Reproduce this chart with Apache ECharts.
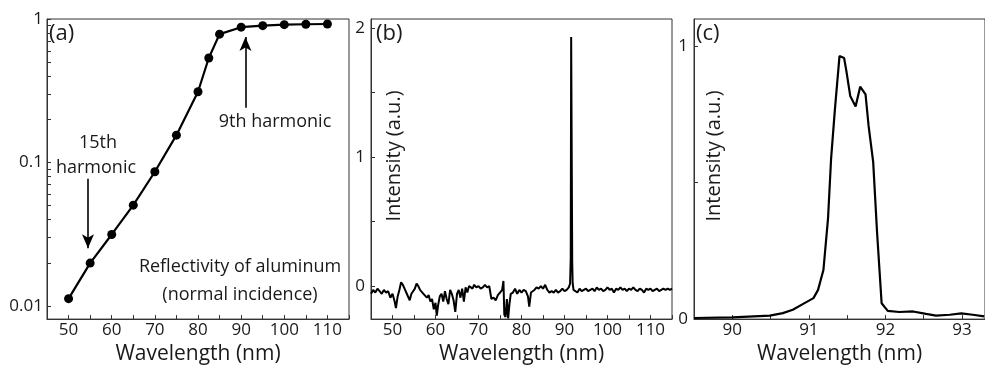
<!DOCTYPE html>
<html><head><meta charset="utf-8">
<script src="https://cdn.jsdelivr.net/npm/echarts@6/dist/echarts.min.js"></script>
<style>html,body{margin:0;padding:0;background:#fff}#c{width:985px;height:370px}</style>
</head><body><div id="c"></div>
<script>
// ---------- data ----------
const reflWavelength = [50,55,60,65,70,75,80,82.5,85,90,95,100,105,110];
const reflectivity   = [0.01125,0.0199,0.0315,0.0504,0.0862,0.155,0.311,0.535,0.784,0.877,0.899,0.913,0.919,0.923];

const specBWavelength = [45.0,45.5,46.0,46.5,47.0,47.5,48.0,48.5,49.0,49.5,50.0,50.5,50.8,51.2,51.6,52.0,52.4,52.8,53.2,53.6,54.0,54.4,54.8,55.2,55.6,56.0,56.4,56.8,57.2,57.6,58.0,58.4,58.8,59.2,59.6,60.0,60.3,60.6,61.0,61.4,61.8,62.2,62.6,63.0,63.4,63.8,64.2,64.6,65.0,65.4,65.8,66.2,66.6,67.0,67.4,67.8,68.2,68.6,69.0,69.5,70.0,70.5,71.0,71.5,72.0,72.5,73.0,73.5,74.0,74.5,75.0,75.5,75.8,76.0,76.3,76.6,76.9,77.2,77.5,78.0,78.5,79.0,79.5,80.0,80.5,81.0,81.5,81.8,82.2,82.6,83.0,83.5,84.0,84.5,85.0,85.5,86.0,86.5,87.0,87.5,88.0,88.5,89.0,89.5,90.0,90.5,91.0,91.3,91.45,91.55,91.7,91.8,91.9,92.1,92.5,93.0,93.5,94.0,94.5,95.0,95.5,96.0,96.5,97.0,97.5,98.0,98.5,99.0,99.5,100.0,100.5,101.0,101.5,102.0,102.5,103.0,103.5,104.0,104.5,105.0,105.5,106.0,106.5,107.0,107.5,108.0,108.5,109.0,109.5,110.0,110.5,111.0,111.5,112.0,112.5,113.0,113.5,114.0,114.5,115.0];
const specBIntensity = [-0.06,-0.03,-0.05,-0.02,-0.04,-0.06,-0.03,-0.05,-0.04,-0.09,-0.06,-0.12,-0.17,-0.08,-0.03,0.03,0.01,-0.02,-0.05,-0.04,-0.11,-0.06,-0.04,-0.02,0.02,0.00,-0.03,-0.02,-0.06,-0.05,-0.09,-0.07,-0.12,-0.10,-0.18,-0.13,-0.23,-0.15,-0.08,-0.06,-0.12,-0.04,-0.10,-0.14,-0.03,-0.06,-0.11,-0.20,-0.06,-0.03,-0.09,-0.02,-0.12,-0.01,-0.05,0.00,-0.01,-0.02,0.01,-0.01,0.00,-0.02,-0.01,0.01,-0.01,0.00,-0.10,-0.09,-0.11,-0.07,-0.05,-0.03,0.04,-0.22,-0.24,-0.10,-0.25,-0.14,-0.06,-0.05,-0.02,-0.06,-0.03,-0.05,-0.03,-0.04,-0.08,-0.16,-0.05,-0.04,-0.03,-0.01,-0.02,0.00,-0.02,0.01,-0.03,-0.05,-0.04,-0.05,-0.03,-0.05,-0.04,-0.02,-0.04,-0.03,-0.01,0.02,0.22,1.93,1.93,0.17,0.02,-0.03,-0.02,-0.05,-0.02,-0.04,-0.03,-0.02,-0.04,-0.03,-0.02,-0.04,-0.01,-0.03,-0.02,-0.04,-0.03,-0.01,-0.03,-0.02,-0.05,-0.02,-0.03,-0.01,-0.03,-0.02,-0.04,-0.02,-0.03,-0.01,-0.03,-0.04,-0.02,-0.03,-0.05,-0.02,-0.03,-0.02,-0.04,-0.03,-0.02,-0.04,-0.03,-0.02,-0.03,-0.02,-0.03,-0.02];

const specCWavelength = [89.50,90.00,90.49,90.66,90.79,90.92,91.06,91.12,91.19,91.25,91.29,91.34,91.40,91.46,91.49,91.54,91.61,91.67,91.74,91.78,91.84,91.89,91.95,92.03,92.18,92.36,92.53,92.66,92.84,92.99,93.14,93.29];
const specCIntensity  = [0.004,0.006,0.013,0.022,0.034,0.055,0.077,0.107,0.18,0.368,0.587,0.769,0.964,0.957,0.909,0.818,0.779,0.852,0.824,0.708,0.575,0.320,0.058,0.030,0.026,0.028,0.019,0.013,0.016,0.021,0.016,0.010];

const xTicksAB  = [45,50,55,60,65,70,75,80,85,90,95,100,105,110,115];
const xLabelsAB = [50,60,70,80,90,100,110];
const yTicksA   = [0.01,0.02,0.03,0.04,0.05,0.06,0.07,0.08,0.09,0.1,0.2,0.3,0.4,0.5,0.6,0.7,0.8,0.9,1];
const yLabelsA  = [0.01,0.1,1];
const yTicksB   = [0,0.5,1,1.5,2];
const yLabelsB  = [0,1,2];
const xTicksC   = [90,90.5,91,91.5,92,92.5,93];
const xLabelsC  = [90,91,92,93];
const yTicksC   = [0,0.5,1];
const yLabelsC  = [0,1];

// annotation arrows in panel (a): [x, yStart, yEnd]
const arrow15th = [54.5, 0.0771, 0.0253];
const arrow9th  = [91.0, 0.241, 0.748];

// ---------- chart ----------
const FONT = '"Open Sans", "DejaVu Sans", sans-serif';
const INK = '#1a1a1a';
const AX = '#333';
const zip = (a, b) => a.map((v, i) => [v, b[i]]);
const fmt = v => String(+(+v).toPrecision(4));

function xAxis(grid, min, max, ticks, labels) {
  return {
    gridIndex: grid, type: 'value', min, max,
    name: 'Wavelength (nm)', nameLocation: 'middle', nameGap: 15,
    nameTextStyle: { fontFamily: FONT, fontSize: 21, color: INK },
    axisLine: { show: true, onZero: false, lineStyle: { color: AX, width: 1 } },
    axisTick: { show: true, inside: true, length: 4, customValues: ticks, lineStyle: { color: AX } },
    axisLabel: { show: true, customValues: labels, formatter: fmt, margin: 3, fontFamily: FONT, fontSize: 17, color: INK },
    splitLine: { show: false }
  };
}
function yAxis(grid, type, min, max, ticks, labels, margin) {
  return {
    gridIndex: grid, type, min, max,
    axisLine: { show: true, onZero: false, lineStyle: { color: AX, width: 1 } },
    axisTick: { show: true, inside: true, length: 4, customValues: ticks, lineStyle: { color: AX } },
    axisLabel: { show: true, customValues: labels, formatter: fmt, margin, fontFamily: FONT, fontSize: 17, color: INK },
    splitLine: { show: false }
  };
}
const gridStyle = { show: true, borderColor: AX, borderWidth: 1, backgroundColor: 'transparent' };

const txt = (text, x, y, size, align, rot) => ({
  type: 'text', x, y, silent: true, rotation: rot || 0,
  style: { text, font: size + 'px ' + FONT, fill: INK, align: align || 'center', verticalAlign: 'middle' }
});

const chart = echarts.init(document.getElementById('c'), null, { renderer: 'canvas' });
chart.setOption({
  animation: false,
  backgroundColor: '#fff',
  grid: [
    Object.assign({ left: 47, top: 19, width: 302, height: 303 }, gridStyle),
    Object.assign({ left: 371, top: 19, width: 301, height: 303 }, gridStyle),
    Object.assign({ left: 694, top: 19, width: 292, height: 303 }, gridStyle)
  ],
  xAxis: [
    xAxis(0, 45, 115, xTicksAB, xLabelsAB),
    xAxis(1, 45, 115, xTicksAB, xLabelsAB),
    xAxis(2, 89.5, 93.3, xTicksC, xLabelsC)
  ],
  yAxis: [
    yAxis(0, 'log', 0.0081, 1, yTicksA, yLabelsA, 4),
    yAxis(1, 'value', -0.256, 2.07, yTicksB, yLabelsB, 6),
    yAxis(2, 'value', 0, 1.1, yTicksC, yLabelsC, 6)
  ],
  series: [
    {
      type: 'line', xAxisIndex: 0, yAxisIndex: 0,
      data: zip(reflWavelength, reflectivity),
      symbol: 'circle', symbolSize: 9, showSymbol: true,
      itemStyle: { color: '#000' }, lineStyle: { color: '#000', width: 2.2 },
      silent: true,
      markLine: {
        silent: true, animation: false,
        symbol: ['none', 'arrow'], symbolSize: [9, 14],
        lineStyle: { color: '#000', width: 1.6, type: 'solid' },
        label: { show: false },
        data: [
          [{ coord: [arrow15th[0], arrow15th[1]] }, { coord: [arrow15th[0], arrow15th[2]] }],
          [{ coord: [arrow9th[0], arrow9th[1]] }, { coord: [arrow9th[0], arrow9th[2]] }]
        ]
      }
    },
    {
      type: 'line', xAxisIndex: 1, yAxisIndex: 1,
      data: zip(specBWavelength, specBIntensity),
      showSymbol: false, silent: true,
      lineStyle: { color: '#000', width: 2 }
    },
    {
      type: 'line', xAxisIndex: 2, yAxisIndex: 2,
      data: zip(specCWavelength, specCIntensity),
      showSymbol: false, silent: true, clip: true,
      lineStyle: { color: '#000', width: 2.2 }
    }
  ],
  graphic: [
    txt('(a)', 49, 34, 22, 'left'),
    txt('(b)', 376, 34, 22, 'left'),
    txt('(c)', 696, 34, 22, 'left'),
    txt('15th', 98, 143, 18),
    txt('harmonic', 96, 168, 18),
    txt('9th harmonic', 275, 122, 18),
    txt('Reflectivity of aluminum', 240, 267, 18),
    txt('(normal incidence)', 240, 295, 18),
    txt('Intensity (a.u.)', 394, 156, 20, 'center', Math.PI / 2),
    txt('Intensity (a.u.)', 714, 156, 20, 'center', Math.PI / 2)
  ]
});
</script></body></html>
